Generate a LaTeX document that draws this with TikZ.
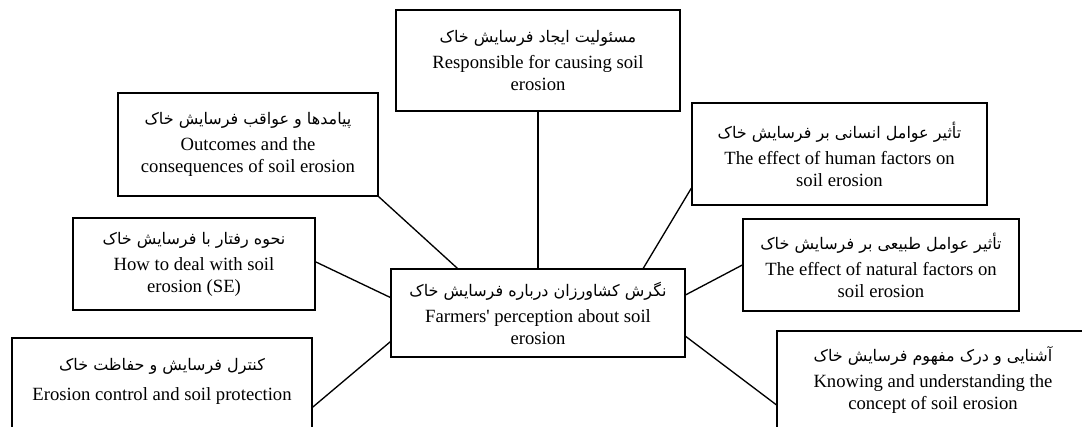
\documentclass[tikz,border=0pt]{standalone}
\usepackage{fontspec}
\setmainfont{Liberation Serif}[Ligatures=TeXOff]
\newfontfamily\farsifont[Script=Arabic]{DejaVu Sans}
\TeXXeTstate=1
\newcommand{\fatx}[1]{{\farsifont\fontsize{12}{14}\selectfont\beginR #1\endR}}

\tikzset{
	box/.style={draw, line width=1pt, rectangle, align=center, inner sep=0pt,
		font=\fontsize{14}{16.5}\selectfont},
	link/.style={line width=1pt}
}

\begin{document}
\begin{tikzpicture}[x=0.75pt, y=-0.75pt]

	\useasboundingbox (0,0) rectangle (1082,427);
	\clip (0,0) rectangle (1082,427);

	% centre
	\node[box, minimum width=220.5pt, minimum height=66pt] (ctr) at (538,313)
		{\fatx{نگرش کشاورزان درباره فرسایش خاک}\\[3pt] Farmers' perception about soil\\ erosion};

	% around the centre
	\node[box, minimum width=213pt, minimum height=75.75pt] (resp) at (538,60.5)
		{\fatx{مسئولیت ایجاد فرسایش خاک}\\[3pt] Responsible for causing soil\\ erosion};
	\node[box, minimum width=195pt, minimum height=77.25pt] (conseq) at (248,144.5)
		{\fatx{پیامدها و عواقب فرسایش خاک}\\[3pt] Outcomes and the\\ consequences of soil erosion};
	\node[box, minimum width=221.25pt, minimum height=76.5pt] (human) at (839.5,154)
		{\fatx{تأثیر عوامل انسانی بر فرسایش خاک}\\[3pt] The effect of human factors on\\ soil erosion};
	\node[box, minimum width=181.5pt, minimum height=69pt] (howto) at (194,264)
		{\fatx{نحوه رفتار با فرسایش خاک}\\[3pt] How to deal with soil\\ erosion (SE)};
	\node[box, minimum width=207pt, minimum height=69pt] (natural) at (881,265)
		{\fatx{تأثیر عوامل طبیعی بر فرسایش خاک}\\[3pt] The effect of natural factors on\\ soil erosion};
	\node[box, minimum width=225pt, minimum height=84pt] (erosion) at (162,394)
		{\fatx{کنترل فرسایش و حفاظت خاک}\\[6pt] Erosion control and soil protection\\ \strut};
	\node[box, minimum width=234pt, minimum height=73.5pt] (knowing) at (933,380)
		{\fatx{آشنایی و درک مفهوم فرسایش خاک}\\[3pt] Knowing and understanding the\\ concept of soil erosion};

	% links
	\draw[link] (resp.south) -- (ctr.north);
	\draw[link] (conseq.south east) -- (ctr.151);
	\draw[link] (human.193) -- (ctr.23);
	\draw[link] (howto.1) -- (ctr.174);
	\draw[link] (natural.west) -- (ctr.7);
	\draw[link] (erosion.-5) -- (ctr.191);
	\draw[link] (knowing.189) -- (ctr.-9);

\end{tikzpicture}
\end{document}
